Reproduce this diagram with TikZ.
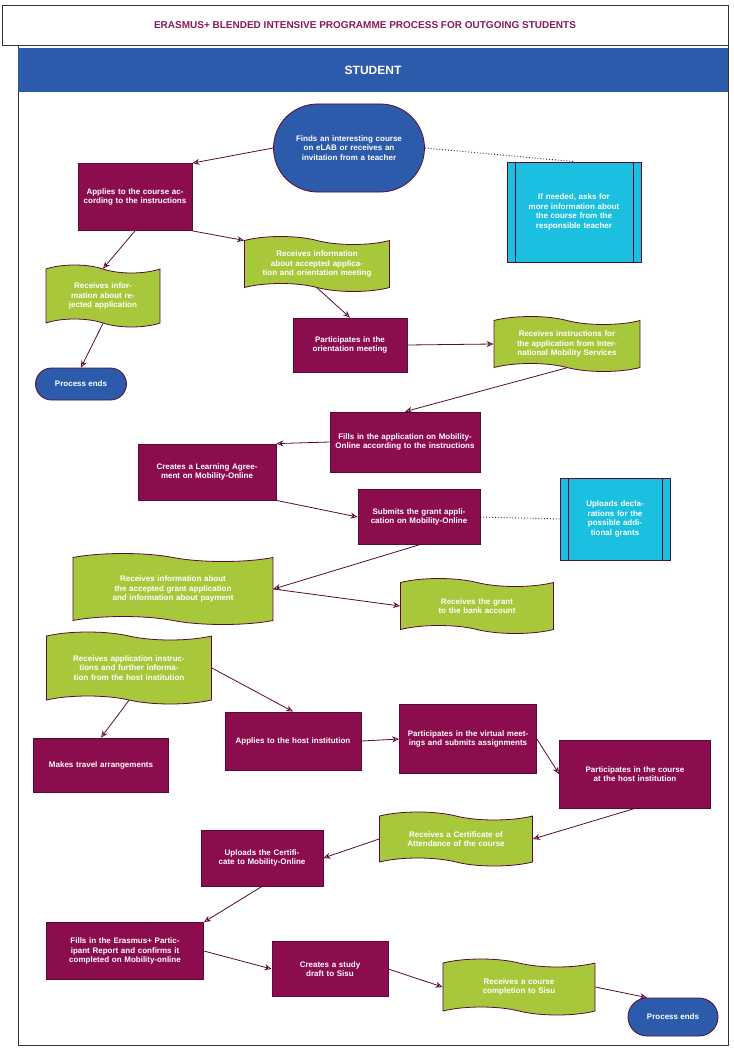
\documentclass[tikz,border=0pt]{standalone}
\usepackage{fontspec}
\setmainfont{Liberation Sans}
\usetikzlibrary{arrows.meta,shapes.symbols,shapes.misc}
\definecolor{pur}{HTML}{8B0D4E}
\definecolor{grn}{HTML}{A8C83C}
\definecolor{cya}{HTML}{1BBFE0}
\definecolor{blu}{HTML}{2B5BAA}
\definecolor{ttl}{HTML}{8B1A5A}
\definecolor{lin}{HTML}{5A0A35}
\tikzset{
 txt/.style={text=white,font=\bfseries\fontsize{8}{9.5}\selectfont,align=center,inner sep=2pt},
 pbox/.style={txt,draw=lin,fill=pur,line width=0.8pt},
 gbox/.style={txt,draw=lin,fill=grn,tape,tape bend top=out and in,tape bend bottom=out and in,tape bend height=8pt,line width=0.8pt},
 cbox/.style={txt,draw=lin,fill=cya,line width=0.8pt},
 bell/.style={txt,draw=lin,fill=blu,rounded rectangle,line width=0.8pt},
 arr/.style={draw=lin,line width=0.8pt,-{Stealth[open,length=7pt,width=6pt]}},
 dot/.style={draw=lin,line width=0.9pt,dotted},
}
\newcommand{\bx}[5]{\node[#1,minimum width=#4-#2,minimum height=5pt,text width=#4-#2-8pt] (#5) at ({(#2+#4)/2},0) {};}
\begin{document}
\begin{tikzpicture}[x=1pt,y=-1pt]
\useasboundingbox (0,0) rectangle (733,1054);
\fill[white] (0,0) rectangle (733,1054);
\draw[line width=0.9pt,draw=black!80] (2,5) rectangle (728,45);
\node[text=ttl,font=\bfseries\fontsize{10}{12}\selectfont] (title) at (365,25) {ERASMUS+ BLENDED INTENSIVE PROGRAMME PROCESS FOR OUTGOING STUDENTS};
\draw[line width=0.9pt,draw=black!80] (18,45) rectangle (728,1045);
\fill[blu] (18,48) rectangle (728,92);
\node[text=white,font=\bfseries\fontsize{12}{14}\selectfont] (lane) at (373,70) {STUDENT};

% nodes: center, width, height
\node[bell,minimum width=155pt,minimum height=88pt,text width=120pt] (start) at (349,148) {Finds an interesting course on eLAB or receives an invitation from a teacher};
\node[cbox,minimum width=134pt,minimum height=100pt,text width=100pt] (ask) at (574,212) {If needed, asks for more information about the course from the responsible teacher};
\draw[lin,line width=0.8pt] (515,162) -- (515,262) (633,162) -- (633,262);
\node[pbox,minimum width=114pt,minimum height=67pt,text width=105pt] (apply) at (135,197) {Applies to the course according to the instructions};
\node[gbox,minimum width=114pt,minimum height=62pt,text width=100pt] (rej) at (103,296) {Receives information about rejected application};
\node[gbox,minimum width=145pt,minimum height=55pt,text width=135pt] (acc) at (317,264) {Receives information about accepted application and orientation meeting};
\node[bell,minimum width=95pt,minimum height=32pt] (end1) at (81,384) {Process ends};
\node[pbox,minimum width=114pt,minimum height=54pt,text width=105pt] (orient) at (350,345) {Participates in the orientation meeting};
\node[gbox,minimum width=146pt,minimum height=55pt,text width=136pt] (ims) at (567,344) {Receives instructions for the application from International Mobility Services};
\node[pbox,minimum width=150pt,minimum height=60pt,text width=140pt] (fill) at (405,442) {Fills in the application on Mobility-Online according to the instructions};
\node[pbox,minimum width=138pt,minimum height=56pt,text width=125pt] (la) at (207,472) {Creates a Learning Agreement on Mobility-Online};
\node[pbox,minimum width=122pt,minimum height=55pt,text width=110pt] (sub) at (419,517) {Submits the grant application on Mobility-Online};
\node[cbox,minimum width=110pt,minimum height=82pt,text width=76pt] (upl) at (615,519) {Uploads declarations for the possible additional grants};
\draw[lin,line width=0.8pt] (568,478) -- (568,560) (662,478) -- (662,560);
\node[gbox,minimum width=200pt,minimum height=71pt,text width=175pt] (ginfo) at (173,589) {Receives information about the accepted grant application and information about payment};
\node[gbox,minimum width=153pt,minimum height=55pt,text width=140pt] (bank) at (477,606) {Receives the grant to the bank account};
\node[gbox,minimum width=165pt,minimum height=72pt,text width=150pt] (host) at (129,668) {Receives application instructions and further information from the host institution};
\node[pbox,minimum width=135pt,minimum height=54pt,text width=120pt] (travel) at (101,765) {Makes travel arrangements};
\node[pbox,minimum width=136pt,minimum height=58pt,text width=120pt] (ahost) at (293,741) {Applies to the host institution};
\node[pbox,minimum width=137pt,minimum height=69pt,text width=125pt] (virt) at (468,739) {Participates in the virtual meetings and submits assignments};
\node[pbox,minimum width=151pt,minimum height=68pt,text width=145pt] (course) at (635,774) {Participates in the course at the host institution};
\node[gbox,minimum width=153pt,minimum height=54pt,text width=130pt] (cert) at (456,839) {Receives a Certificate of Attendance of the course};
\node[pbox,minimum width=122pt,minimum height=56pt,text width=115pt] (upc) at (262,858) {Uploads the Certificate to Mobility-Online};
\node[pbox,minimum width=157pt,minimum height=57pt,text width=150pt] (rep) at (125,951) {Fills in the Erasmus+ Participant Report and confirms it completed on Mobility-online};
\node[pbox,minimum width=116pt,minimum height=55pt,text width=100pt] (draft) at (330,969) {Creates a study draft to Sisu};
\node[gbox,minimum width=152pt,minimum height=56pt,text width=130pt] (comp) at (519,987) {Receives a course completion to Sisu};
\node[bell,minimum width=94pt,minimum height=38pt] (end2) at (673,1017) {Process ends};

% connectors
\draw[arr] (start.west) -- (apply.north east);
\draw[dot] (start.east) -- (ask.north);
\draw[arr] (apply.south) -- (rej.north);
\draw[arr] (apply.south east) -- (acc.north west);
\draw[arr] (rej.south) -- (end1.north);
\draw[arr] (acc.south) -- (orient.north);
\draw[arr] (orient.east) -- (ims.west);
\draw[arr] (ims.south) -- (fill.north);
\draw[arr] (fill.west) -- (la.north east);
\draw[arr] (la.south east) -- (sub.west);
\draw[dot] (sub.east) -- (upl.west);
\draw[arr] (sub.south) -- (ginfo.east);
\draw[arr] (ginfo.east) -- (bank.west);
\draw[arr] (host.south) -- (travel.north);
\draw[arr] (host.east) -- (ahost.north);
\draw[arr] (ahost.east) -- (virt.west);
\draw[arr] (virt.east) -- (course.west);
\draw[arr] (course.south) -- (cert.east);
\draw[arr] (cert.west) -- (upc.east);
\draw[arr] (upc.south) -- (rep.north east);
\draw[arr] (rep.east) -- (draft.west);
\draw[arr] (draft.east) -- (comp.west);
\draw[arr] (comp.east) -- (end2.north west);
\end{tikzpicture}
\end{document}
